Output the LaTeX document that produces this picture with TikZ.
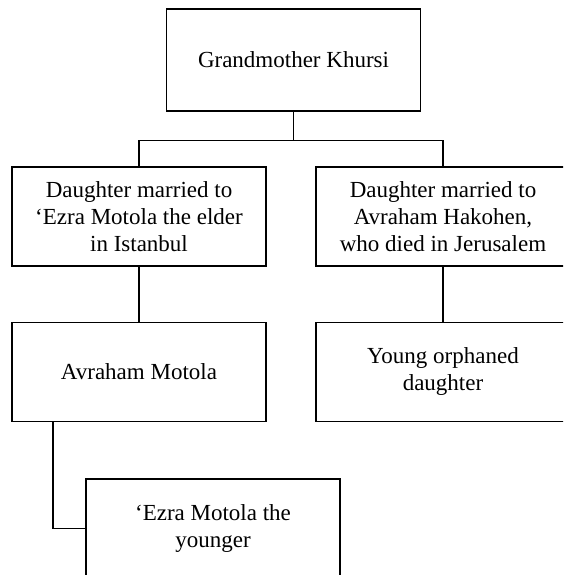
\documentclass[tikz,border=0pt]{standalone}
\usepackage{fontspec}
\setmainfont{Liberation Serif}
\usetikzlibrary{positioning}

\begin{document}
\begin{tikzpicture}[x=1pt, y=-1pt, node distance=55pt, line width=1.2pt]
	\tikzstyle{person} = [draw, rectangle, align=center, inner sep=0pt, minimum width=254pt, minimum height=99pt, font=\fontsize{23}{27}\selectfont];
	
	\useasboundingbox (0,0) rectangle (563,575);
	\clip (0,0) rectangle (563,575);
	
	\node[person, minimum height=102pt] (gm) at (293.5,60) {Grandmother Khursi};
	\node[person] (d1) at (139,216.5) {Daughter married to\\`Ezra Motola the elder\\in Istanbul};
	\node[person] (d2) at (443,216.5) {Daughter married to\\Avraham Hakohen,\\who died in Jerusalem};
	\node[person, below = of d1] (am) {Avraham Motola};
	\node[person, below = of d2] (yo) {Young orphaned\\daughter};
	\node[person] (ez) at (213,528.5) {`Ezra Motola the\\younger};
	
	% the daughters
	\coordinate[below = 29pt of gm.south] (split);
	\draw (gm.south) -- (split);
	\draw (split) -| (d1.north);
	\draw (split) -| (d2.north);
	
	% the next generations
	\draw (d1.south) -- (am.north);
	\draw (d2.south) -- (yo.north);
	\draw ([xshift=-86pt]am.south) |- (ez.west);
	
\end{tikzpicture}
\end{document}
